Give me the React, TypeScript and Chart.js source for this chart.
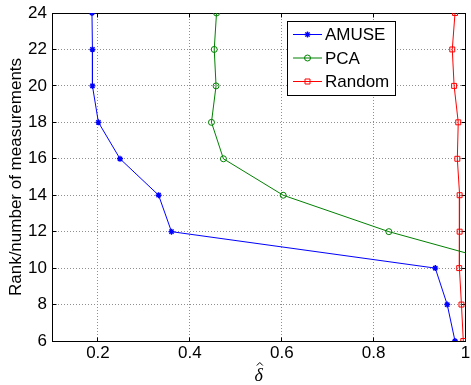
import { useEffect, useRef } from 'react';
import { Chart, registerables } from 'chart.js';

Chart.register(...registerables);

// ---- data ----
const rankLevels = [24, 22, 20, 18, 16, 14, 12, 10, 8, 6];
const amuseDelta = [0.187, 0.188, 0.188, 0.201, 0.248, 0.332, 0.36, 0.934, 0.96, 0.977];
const pcaRank = [24, 22, 20, 18, 16, 14, 12, 10];
const pcaDelta = [0.458, 0.453, 0.457, 0.447, 0.473, 0.603, 0.833, 1.12];
const randomDelta = [0.977, 0.971, 0.975, 0.984, 0.982, 0.987, 0.987, 0.986, 0.991, 0.995];
const xTickValues = [0.2, 0.4, 0.6, 0.8, 1];
const yTickValues = [6, 8, 10, 12, 14, 16, 18, 20, 22, 24];
const seriesNames = ['AMUSE', 'PCA', 'Random'];
const xLabel = 'δ';
const yLabel = 'Rank/number of measurements';

const COLORS = ['#0000ff', '#008000', '#ff0000'];
const STYLES = ['star', 'circle', 'rect'];
const FONT = '"Liberation Sans", Arial, Helvetica, sans-serif';
const GRID = '#8f8f8f';

const al = (p: number) => Math.floor(p) + 0.5;

function drawMarker(ctx: CanvasRenderingContext2D, style: string, x: number, y: number, color: string) {
  ctx.save();
  ctx.strokeStyle = color;
  ctx.lineWidth = style === 'star' ? 1.4 : 1;
  ctx.beginPath();
  if (style === 'star') {
    const r = 3;
    const d = r * Math.SQRT1_2;
    ctx.moveTo(x - r, y); ctx.lineTo(x + r, y);
    ctx.moveTo(x, y - r); ctx.lineTo(x, y + r);
    ctx.moveTo(x - d, y - d); ctx.lineTo(x + d, y + d);
    ctx.moveTo(x - d, y + d); ctx.lineTo(x + d, y - d);
  } else if (style === 'circle') {
    ctx.arc(x, y, 3, 0, Math.PI * 2);
  } else {
    ctx.rect(x - 2.5, y - 2.5, 5, 5);
  }
  ctx.stroke();
  ctx.restore();
}

const framePlugin = {
  id: 'matlabFrame',
  beforeDatasetsDraw(chart: any) {
    const { ctx, chartArea: a, scales } = chart;
    const L = al(a.left), R = al(a.right), T = al(a.top), B = al(a.bottom);
    ctx.save();
    ctx.strokeStyle = '#000';
    ctx.lineWidth = 1;
    ctx.setLineDash([]);
    ctx.strokeRect(L, T, R - L, B - T);
    ctx.beginPath();
    const tl = 4;
    xTickValues.forEach((v) => {
      const px = al(scales.x.getPixelForValue(v));
      ctx.moveTo(px, B); ctx.lineTo(px, B - tl);
      ctx.moveTo(px, T); ctx.lineTo(px, T + tl);
    });
    yTickValues.forEach((v) => {
      const py = al(scales.y.getPixelForValue(v));
      ctx.moveTo(L, py); ctx.lineTo(L + tl, py);
      ctx.moveTo(R, py); ctx.lineTo(R - tl, py);
    });
    ctx.stroke();
    ctx.restore();
  },
  afterDraw(chart: any) {
    const { ctx, chartArea: a } = chart;
    ctx.save();
    ctx.setLineDash([]);
    // legend box
    const bx = 287.5, by = 21.5, bw = 108, bh = 74;
    ctx.fillStyle = '#fff';
    ctx.fillRect(bx, by, bw, bh);
    ctx.strokeStyle = '#000';
    ctx.lineWidth = 1;
    ctx.strokeRect(bx, by, bw, bh);
    const rows = [34.5, 58, 81.5];
    ctx.font = `17px ${FONT}`;
    ctx.textBaseline = 'middle';
    ctx.textAlign = 'left';
    seriesNames.forEach((name, i) => {
      const y = rows[i];
      ctx.strokeStyle = COLORS[i];
      ctx.lineWidth = 1;
      ctx.beginPath();
      ctx.moveTo(293, y); ctx.lineTo(322, y);
      ctx.stroke();
      drawMarker(ctx, STYLES[i], 307.5, y, COLORS[i]);
      ctx.fillStyle = '#000';
      ctx.fillText(name, 325, y + 1);
    });
    // x axis title: italic delta with a hat
    const cx = (a.left + a.right) / 2;
    ctx.fillStyle = '#000';
    ctx.font = `italic 18px "Liberation Serif", "DejaVu Serif", serif`;
    ctx.textAlign = 'center';
    ctx.textBaseline = 'alphabetic';
    ctx.fillText(xLabel, cx, 381);
    ctx.strokeStyle = '#000';
    ctx.lineWidth = 1;
    ctx.beginPath();
    ctx.moveTo(cx - 2, 365.5);
    ctx.lineTo(cx + 1, 362.5);
    ctx.lineTo(cx + 4, 365.5);
    ctx.stroke();
    // y axis title
    ctx.font = `17px ${FONT}`;
    ctx.translate(21, (a.top + a.bottom) / 2);
    ctx.rotate(-Math.PI / 2);
    ctx.textAlign = 'center';
    ctx.textBaseline = 'alphabetic';
    ctx.fillText(yLabel, 0, 0);
    ctx.restore();
  },
};

export default function App() {
  const ref = useRef<HTMLCanvasElement | null>(null);
  useEffect(() => {
    if (!ref.current) return;
    const mk = (xs: number[], ys: number[]) => xs.map((x, i) => ({ x, y: ys[i] }));
    const datasets = [
      { xs: amuseDelta, ys: rankLevels },
      { xs: pcaDelta, ys: pcaRank },
      { xs: randomDelta, ys: rankLevels },
    ].map((d, i) => ({
      label: seriesNames[i],
      data: mk(d.xs, d.ys),
      borderColor: COLORS[i],
      backgroundColor: 'rgba(0,0,0,0)',
      pointBorderColor: COLORS[i],
      pointBackgroundColor: 'rgba(0,0,0,0)',
      pointStyle: STYLES[i],
      pointRadius: STYLES[i] === 'rect' ? 3.5 : 3,
      pointBorderWidth: STYLES[i] === 'star' ? 1.4 : 1,
      borderWidth: 1,
      tension: 0,
      fill: false,
    }));
    const gridOpts = {
      color: GRID,
      drawTicks: false,
      lineWidth: 1,
      borderDash: [1, 2],
      dash: [1, 2],
    };
    const chart = new Chart(ref.current, {
      type: 'line',
      data: { datasets },
      plugins: [framePlugin],
      options: {
        animation: false,
        responsive: false,
        devicePixelRatio: 1,
        layout: { padding: { top: 13, right: 4, left: 0, bottom: 0 } },
        plugins: { legend: { display: false }, tooltip: { enabled: false } },
        scales: {
          x: {
            type: 'linear',
            min: 0.1,
            max: 1,
            afterBuildTicks: (s: any) => { s.ticks = xTickValues.map((v) => ({ value: v })); },
            afterFit: (s: any) => { s.height = 44; s.paddingLeft = 0; s.paddingRight = 0; },
            ticks: {
              color: '#000',
              font: { family: FONT, size: 17 },
              padding: 2,
              maxRotation: 0,
              callback: (v: any) => String(v),
            },
            grid: gridOpts,
            border: { display: false, dash: [1, 2] },
          },
          y: {
            type: 'linear',
            min: 6,
            max: 24,
            afterBuildTicks: (s: any) => { s.ticks = yTickValues.map((v) => ({ value: v })); },
            afterFit: (s: any) => { s.width = 52; s.paddingTop = 0; s.paddingBottom = 0; },
            ticks: {
              color: '#000',
              font: { family: FONT, size: 17 },
              padding: 5,
              callback: (v: any) => String(v),
            },
            grid: gridOpts,
            border: { display: false, dash: [1, 2] },
          },
        },
      } as any,
    });
    return () => chart.destroy();
  }, []);
  return (
    <div style={{ position: 'absolute', left: 0, top: 0, width: 471, height: 385, background: '#fff' }}>
      <canvas ref={ref} width={471} height={385} style={{ width: 471, height: 385, display: 'block' }} />
    </div>
  );
}
